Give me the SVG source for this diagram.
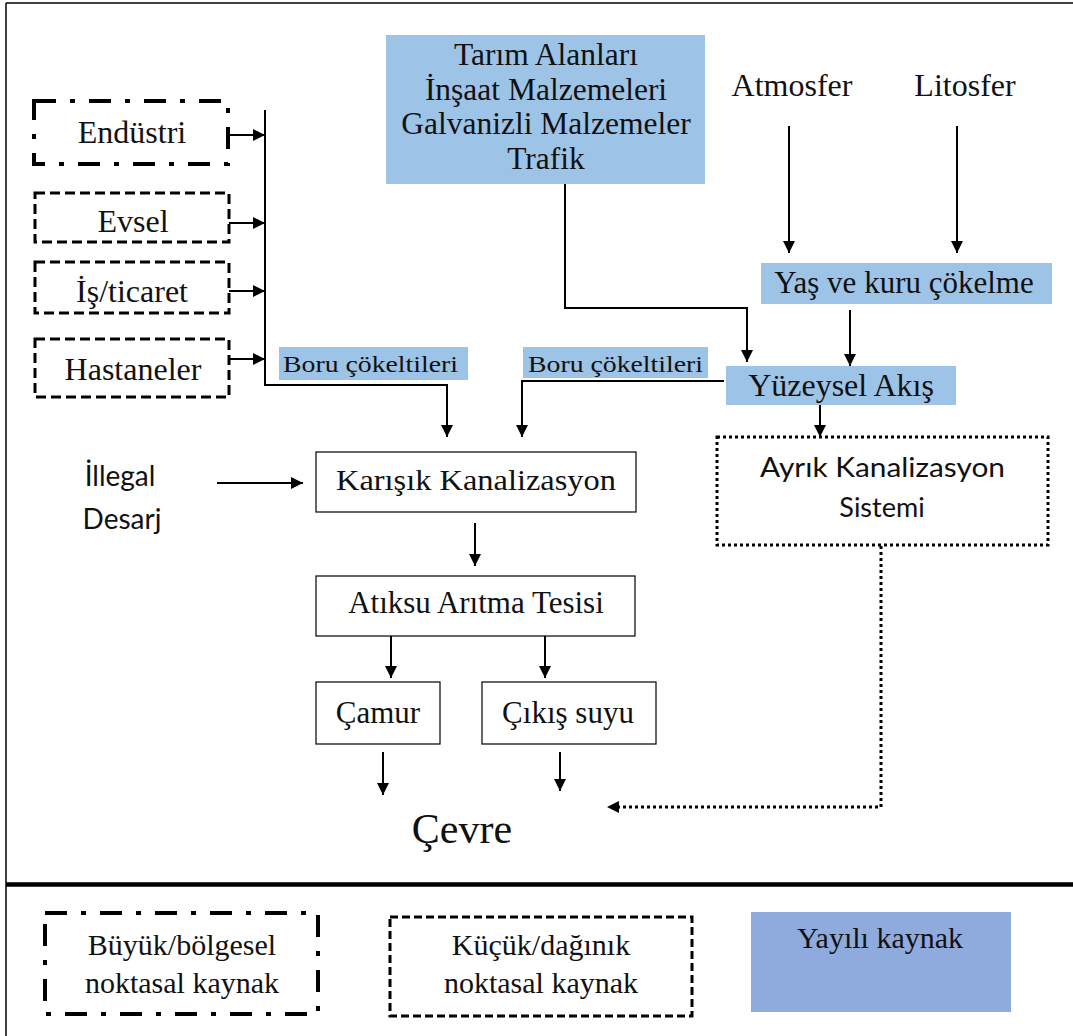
<svg xmlns="http://www.w3.org/2000/svg" width="1073" height="1036" viewBox="0 0 1073 1036">
<style>
.ln{fill:none;stroke:#000;stroke-width:2;}
.dot{fill:none;stroke:#000;stroke-width:3;stroke-dasharray:3 3;}
.dashdot{fill:none;stroke:#000;stroke-width:4;stroke-dasharray:22 14 5 14;}
.dash{fill:none;stroke:#000;stroke-width:3;stroke-dasharray:10 5;}
.box{fill:#fff;stroke:#000;stroke-width:1.2;}
.blue{fill:#9DC3E6;}
</style>
<defs>
<marker id="ah" markerUnits="userSpaceOnUse" markerWidth="12" markerHeight="12" refX="12" refY="6" orient="auto">
<path d="M0,0 L12,6 L0,12 z" fill="#000"/>
</marker>
</defs>
<rect x="0" y="0" width="1073" height="1036" fill="#fff"/>
<g id="frame">
<line x1="6" y1="3" x2="1073" y2="3" stroke="#000" stroke-width="1.5"/>
<line x1="6" y1="3" x2="6" y2="1036" stroke="#000" stroke-width="1.5"/>
<line x1="6" y1="884.5" x2="1073" y2="884.5" stroke="#000" stroke-width="4.5"/>
</g>
<g id="connectors">
<path class="ln" d="M229,135 H265" marker-end="url(#ah)"/>
<path class="ln" d="M229,223 H265" marker-end="url(#ah)"/>
<path class="ln" d="M229,291 H265" marker-end="url(#ah)"/>
<path class="ln" d="M229,359 H265" marker-end="url(#ah)"/>
<path class="ln" d="M265,110 V385 H447 V437" marker-end="url(#ah)"/>
<path class="ln" d="M724,381 H522 V437" marker-end="url(#ah)"/>
<path class="ln" d="M565,184 V308 H747 V362" marker-end="url(#ah)"/>
<path class="ln" d="M789,126 V253" marker-end="url(#ah)"/>
<path class="ln" d="M957,126 V253" marker-end="url(#ah)"/>
<path class="ln" d="M850,310 V366" marker-end="url(#ah)"/>
<path class="ln" d="M820,405 V437" marker-end="url(#ah)"/>
<path class="ln" d="M217,483 H303" marker-end="url(#ah)"/>
<path class="ln" d="M475,523 V566" marker-end="url(#ah)"/>
<path class="ln" d="M391,636 V678" marker-end="url(#ah)"/>
<path class="ln" d="M545,636 V678" marker-end="url(#ah)"/>
<path class="ln" d="M383,752 V795" marker-end="url(#ah)"/>
<path class="ln" d="M560,752 V791" marker-end="url(#ah)"/>
<path class="dot" d="M881,546 V807 H616"/>
<path d="M607,807 L619,801 L619,813 z" fill="#000"/>
</g>
<g font-family="Liberation Serif, serif" fill="#111">
<g id="endustri">
<rect class="dashdot" x="34" y="101" width="194" height="63"/>
<text x="132" y="143" font-size="32" text-anchor="middle">Endüstri</text>
</g>
<g id="evsel">
<rect class="dash" x="35" y="193" width="194" height="49"/>
<text x="133" y="232" font-size="32" text-anchor="middle">Evsel</text>
</g>
<g id="isticaret">
<rect class="dash" x="35" y="262" width="194" height="51"/>
<text x="132" y="302" font-size="32" text-anchor="middle">İş/ticaret</text>
</g>
<g id="hastaneler">
<rect class="dash" x="35" y="339" width="194" height="58"/>
<text x="133" y="380" font-size="32" text-anchor="middle">Hastaneler</text>
</g>
<g id="tarim">
<rect class="blue" x="386" y="35" width="319" height="149"/>
<text font-size="31.5" text-anchor="middle"><tspan x="546" y="65">Tarım Alanları</tspan><tspan x="546" y="100">İnşaat Malzemeleri</tspan><tspan x="546" y="134">Galvanizli Malzemeler</tspan><tspan x="546" y="169">Trafik</tspan></text>
</g>
<g id="atmosfer">
<text x="792" y="96" font-size="32" text-anchor="middle">Atmosfer</text>
</g>
<g id="litosfer">
<text x="965" y="96" font-size="32" text-anchor="middle">Litosfer</text>
</g>
<g id="yas">
<rect class="blue" x="761" y="263" width="291" height="41"/>
<text x="904" y="293" font-size="31" text-anchor="middle">Yaş ve kuru çökelme</text>
</g>
<g id="boru1">
<rect class="blue" x="279" y="347" width="189" height="33"/>
<text x="283" y="372" font-size="24" textLength="175" lengthAdjust="spacingAndGlyphs">Boru çökeltileri</text>
</g>
<g id="boru2">
<rect class="blue" x="523" y="347" width="185" height="31"/>
<text x="528" y="372" font-size="24" textLength="175" lengthAdjust="spacingAndGlyphs">Boru çökeltileri</text>
</g>
<g id="yuzeysel">
<rect class="blue" x="726" y="366" width="230" height="39"/>
<text x="841" y="396" font-size="32" text-anchor="middle">Yüzeysel Akış</text>
</g>
<g id="karisik">
<rect class="box" x="316" y="452" width="320" height="60"/>
<text x="336" y="490" font-size="29" textLength="280" lengthAdjust="spacingAndGlyphs">Karışık Kanalizasyon</text>
</g>
<g id="atiksu">
<rect class="box" x="316" y="576" width="319" height="60"/>
<text x="476" y="613" font-size="31" text-anchor="middle">Atıksu Arıtma Tesisi</text>
</g>
<g id="camur">
<rect class="box" x="316" y="682" width="124" height="62"/>
<text x="378" y="723" font-size="31" text-anchor="middle">Çamur</text>
</g>
<g id="cikis">
<rect class="box" x="482" y="682" width="174" height="62"/>
<text x="568" y="723" font-size="31" text-anchor="middle">Çıkış suyu</text>
</g>
<g id="cevre">
<text x="462" y="843" font-size="42" text-anchor="middle">Çevre</text>
</g>
<g id="legend">
<g id="leg-buyuk">
<rect class="dashdot" x="45" y="913" width="273" height="101"/>
<text font-size="30" text-anchor="middle"><tspan x="182" y="955">Büyük/bölgesel</tspan><tspan x="182" y="993">noktasal kaynak</tspan></text>
</g>
<g id="leg-kucuk">
<rect class="dash" x="390" y="917" width="302" height="99" style="stroke-dasharray:8 4"/>
<text font-size="30" text-anchor="middle"><tspan x="541" y="955">Küçük/dağınık</tspan><tspan x="541" y="993">noktasal kaynak</tspan></text>
</g>
<g id="leg-yayili">
<rect x="751" y="912" width="260" height="100" fill="#8FAADC"/>
<text x="880" y="948" font-size="30" text-anchor="middle">Yayılı kaynak</text>
</g>
</g>
</g>
<g font-family="Lato, Liberation Sans, sans-serif" fill="#111">
<g id="ayrik">
<rect class="dot" x="717" y="437" width="331" height="108"/>
<text x="760" y="477" font-size="27" textLength="245" lengthAdjust="spacingAndGlyphs">Ayrık Kanalizasyon</text>
<text x="882" y="517" font-size="27" text-anchor="middle">Sistemi</text>
</g>
<g id="illegal">
<text x="120" y="486" font-size="28" text-anchor="middle">İllegal</text>
<text x="122" y="529" font-size="28" text-anchor="middle">Desarj</text>
</g>
</g>
</svg>
